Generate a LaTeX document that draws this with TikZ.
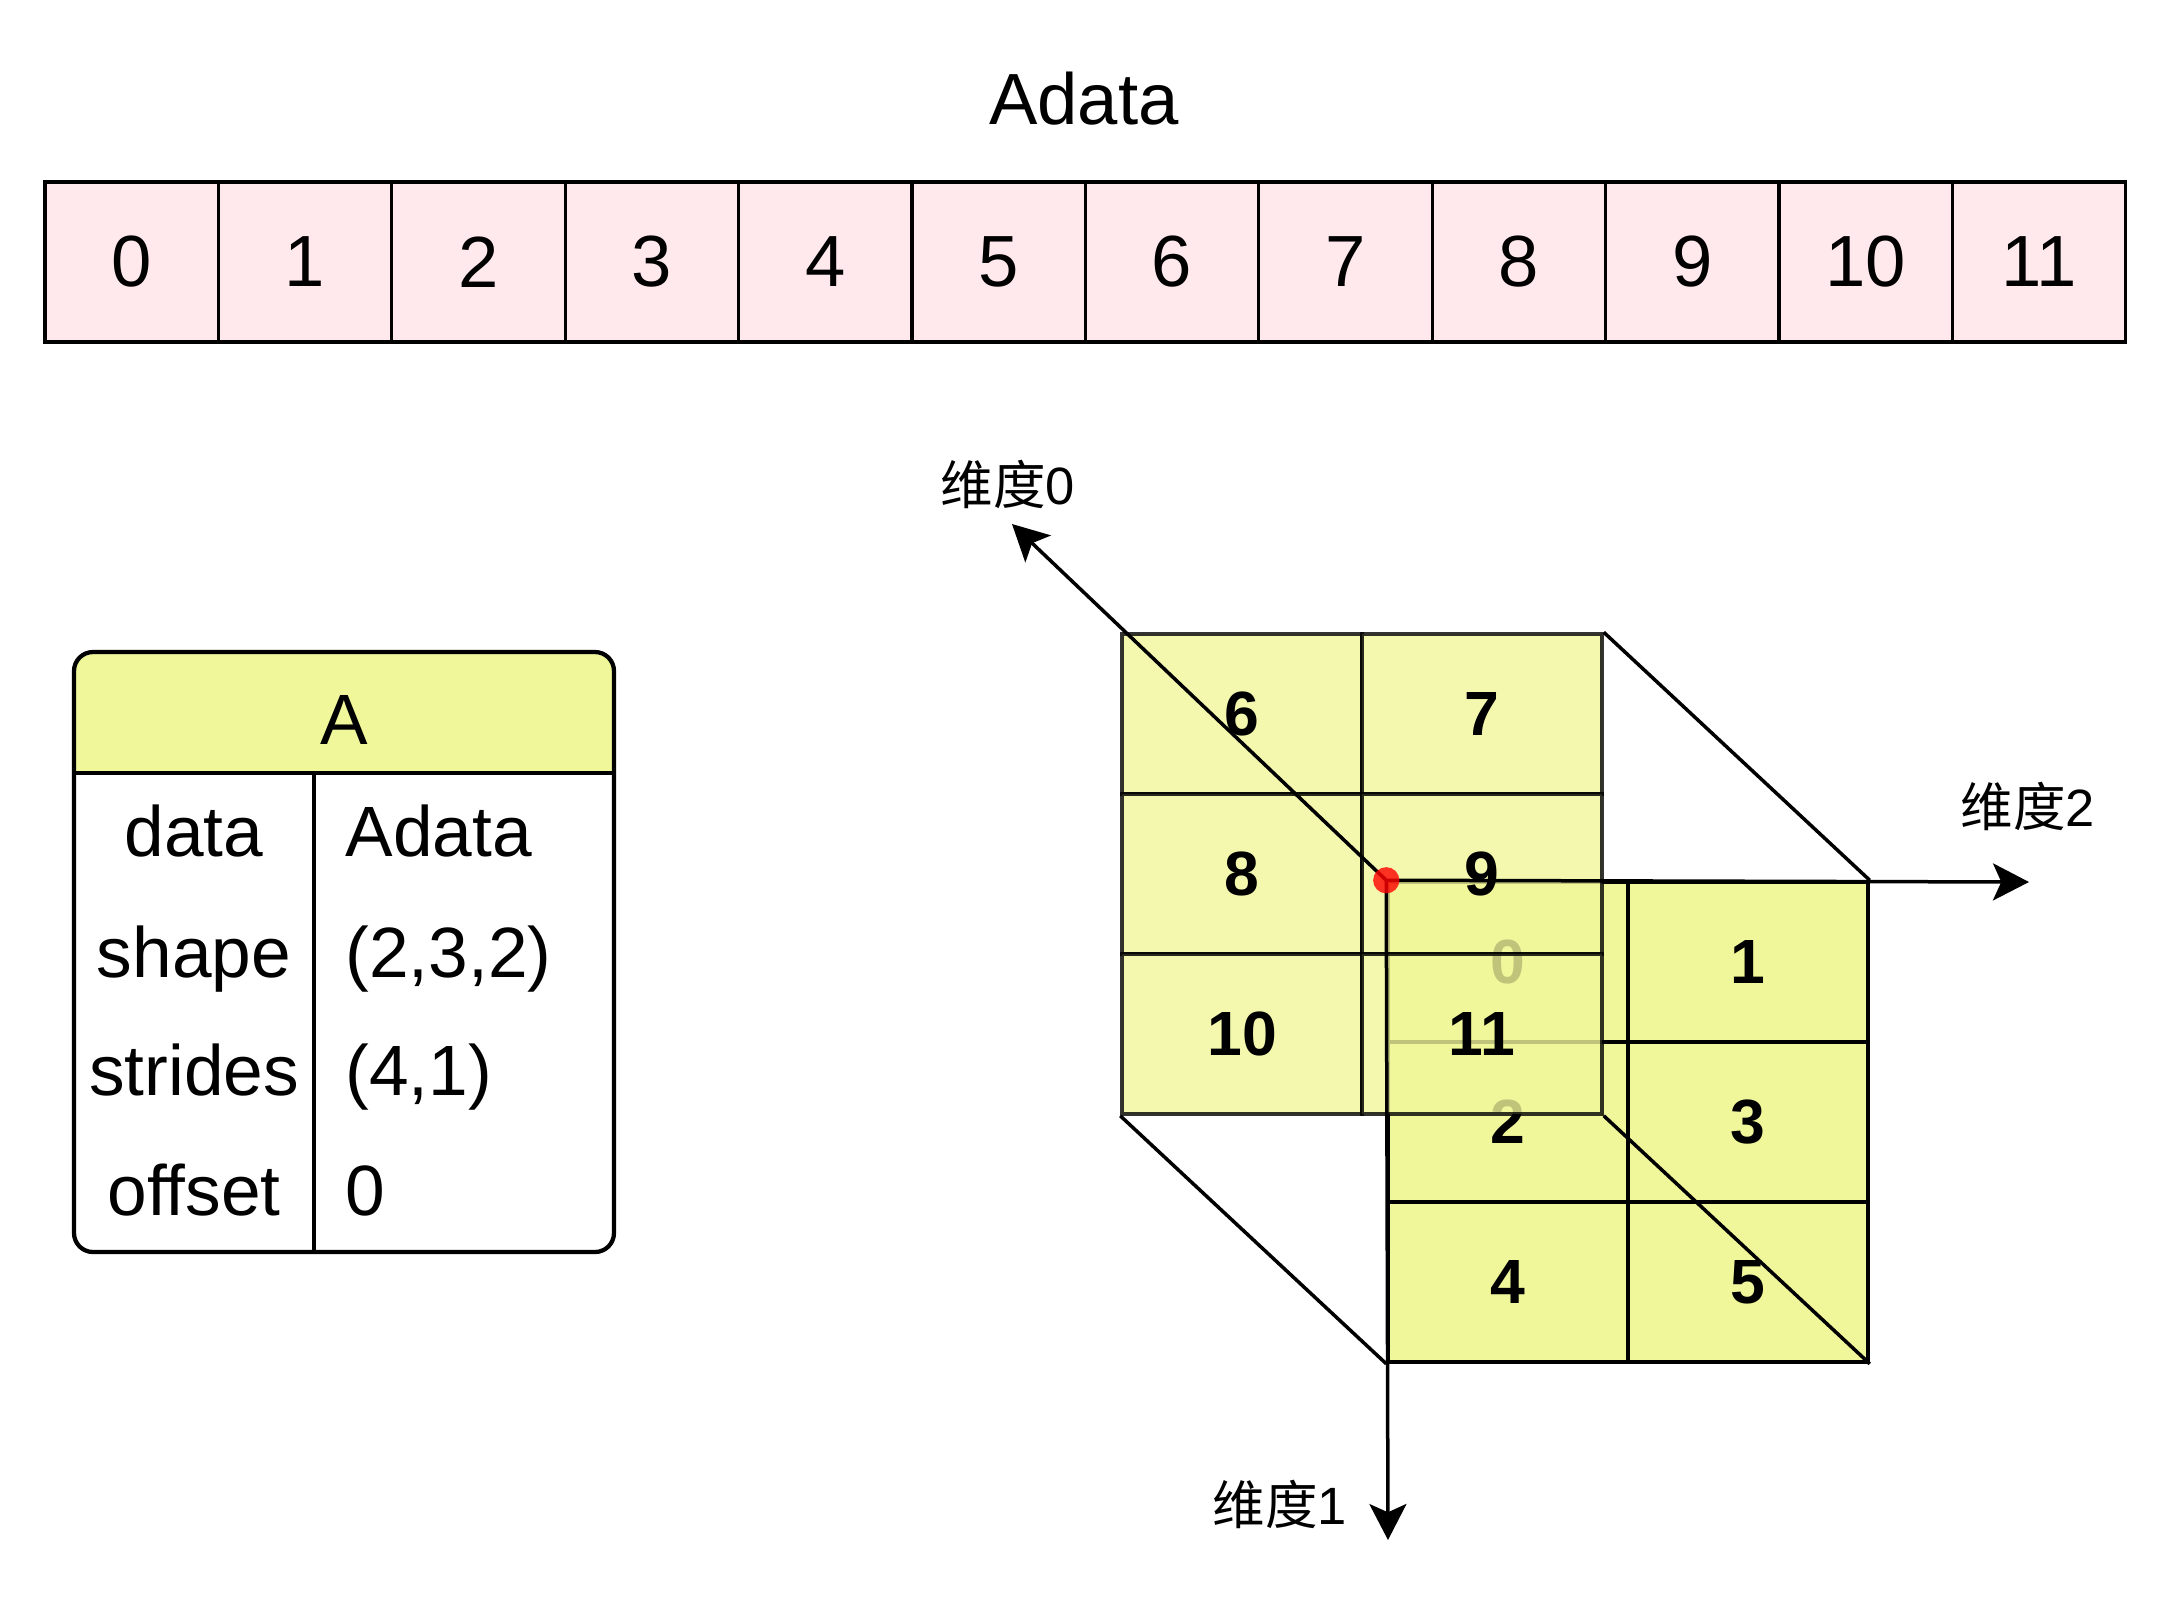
\documentclass[tikz,border=0pt]{standalone}
\usepackage{fontspec}
\setmainfont{Liberation Sans}
\newfontfamily\cjk{Noto Sans CJK SC}
\usetikzlibrary{arrows.meta}
\definecolor{pinkA}{HTML}{FFE9EC}
\definecolor{yellowA}{HTML}{F0F69A}

\begin{document}
\begin{tikzpicture}[x=0.4pt,y=-0.4pt,
    cellA/.style={draw,line width=1.3pt,fill=pinkA,minimum width=69.36pt,minimum height=64pt,inner sep=0pt,font=\fontsize{29}{34}\selectfont},
    cellB/.style={draw,line width=1.4pt,fill=yellowA,minimum width=96pt,minimum height=64pt,inner sep=0pt,font=\bfseries\fontsize{25}{30}\selectfont},
    backB/.style={cellB,opacity=0.8,text opacity=1},
    edge/.style={line width=1.4pt},
    axis/.style={line width=1.4pt,-{Stealth[length=14.4pt,width=14.8pt,inset=3.3pt]}},
    dot/.style={circle,fill=red,opacity=0.8,minimum size=10.5pt,inner sep=0pt},
    lbl/.style={font=\fontsize{21}{25}\selectfont,inner sep=0pt},
    tab/.style={line width=1.7pt},
    tabtxt/.style={font=\fontsize{28.5}{34}\selectfont,inner sep=0pt,anchor=base}]
    \useasboundingbox (0,0) rectangle (2172,1616);
    \node[font=\fontsize{29}{34}\selectfont,anchor=base] (title) at (1084,124) {Adata};
    \node[cellA] (a0) at (131.7,262) {0};
    \node[cellA] (a1) at (305.1,262) {1};
    \node[cellA] (a2) at (478.5,262) {2};
    \node[cellA] (a3) at (651.9,262) {3};
    \node[cellA] (a4) at (825.3,262) {4};
    \node[cellA] (a5) at (998.7,262) {5};
    \node[cellA] (a6) at (1172.1,262) {6};
    \node[cellA] (a7) at (1345.5,262) {7};
    \node[cellA] (a8) at (1518.9,262) {8};
    \node[cellA] (a9) at (1692.3,262) {9};
    \node[cellA] (a10) at (1865.7,262) {10};
    \node[cellA] (a11) at (2039.1,262) {11};
    \begin{scope}
    \clip[rounded corners=7.6pt] (74,652) rectangle (614,1252);
    \fill[yellowA] (74,652) rectangle (614,773);
    \end{scope}
    \draw[tab] (74,773) -- (614,773);
    \draw[tab] (314,773) -- (314,1252);
    \draw[tab,rounded corners=7.6pt] (74,652) rectangle (614,1252);
    \node[tabtxt] (hdr) at (344,744) {A};
    \node[tabtxt] (k1) at (194,856) {data};
    \node[tabtxt] (k2) at (194,977) {shape};
    \node[tabtxt] (k3) at (194,1095) {strides};
    \node[tabtxt] (k4) at (194,1215) {offset};
    \node[tabtxt,anchor=base west] (v1) at (345,856) {Adata};
    \node[tabtxt,anchor=base west] (v2) at (345,977) {(2,3,2)};
    \node[tabtxt,anchor=base west] (v3) at (345,1095) {(4,1)};
    \node[tabtxt,anchor=base west] (v4) at (345,1215) {0};
    \node[cellB] (f00) at (1508,962) {0};
    \node[cellB] (f01) at (1748,962) {1};
    \node[cellB] (f10) at (1508,1122) {2};
    \node[cellB] (f11) at (1748,1122) {3};
    \node[cellB] (f20) at (1508,1282) {4};
    \node[cellB] (f21) at (1748,1282) {5};
    \node[backB] (b00) at (1242,714) {6};
    \node[backB] (b01) at (1482,714) {7};
    \node[backB] (b10) at (1242,874) {8};
    \node[backB] (b11) at (1482,874) {9};
    \node[backB] (b20) at (1242,1034) {10};
    \node[backB] (b21) at (1482,1034) {11};
    \draw[edge] (b01.north east) -- (f01.north east);
    \draw[edge] (b20.south west) -- (f20.south west);
    \draw[edge] (b21.south east) -- (f21.south east);
    \coordinate (o) at (f00.north west);
    \coordinate (t0) at (1012,524);
    \coordinate (t1) at (1388,1540);
    \coordinate (t2) at (2029,882);
    \draw[axis] (o) -- (t0);
    \draw[axis] (o) -- (t1);
    \draw[axis] (o) -- (t2);
    \node[dot] (origin) at (o) {};
    \node[lbl] (d0) at (1008,484) {{\cjk 维度}0};
    \node[lbl] (d1) at (1280,1504) {{\cjk 维度}1};
    \node[lbl] (d2) at (2028,806) {{\cjk 维度}2};
\end{tikzpicture}
\end{document}
